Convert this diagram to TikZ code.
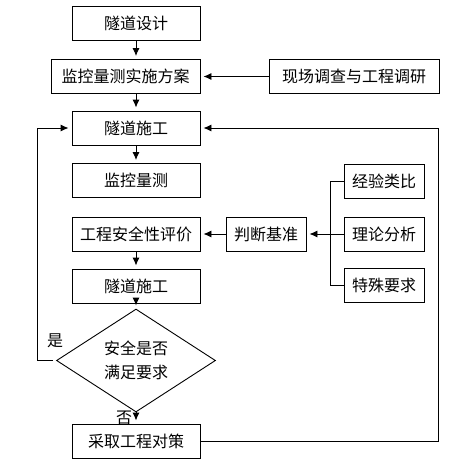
\documentclass[tikz,border=0pt]{standalone}
\usepackage{fontspec}
\newfontfamily\cjk{Noto Sans CJK SC}
\usetikzlibrary{shapes.geometric,arrows.meta}

\begin{document}
\begin{tikzpicture}[x=1pt,y=-1pt,
  box/.style={draw,line width=0.9pt,minimum height=34pt,inner sep=0pt,font=\cjk\fontsize{16}{20}\selectfont},
  flow/.style={line width=0.9pt,-{Latex[length=8pt,width=7pt]},shorten >=3pt},
  link/.style={line width=0.9pt}]
\useasboundingbox (0,0) rectangle (464,466);

% Main column
\node[box,minimum width=128pt] (design) at (136,23) {隧道设计};
\node[box,minimum width=149pt] (plan) at (125.5,76.5) {监控量测实施方案};
\node[box,minimum width=128pt] (build1) at (136,128) {隧道施工};
\node[box,minimum width=128pt] (monitor) at (136,180.5) {监控量测};
\node[box,minimum width=128pt] (eval) at (136,234) {工程安全性评价};
\node[box,minimum width=128pt] (build2) at (136,286) {隧道施工};
\node[box,diamond,minimum width=159pt,minimum height=75pt,align=center,
  font=\cjk\fontsize{16}{24}\selectfont] (check) at (136,360.5) {安全是否\\满足要求};
\node[box,minimum width=128pt] (action) at (136,441) {采取工程对策};

% Side inputs
\node[box,minimum width=170pt] (survey) at (354,76.5) {现场调查与工程调研};
\node[box,minimum width=80pt] (crit) at (266,234) {判断基准};
\node[box,minimum width=80pt] (exp) at (384,181) {经验类比};
\node[box,minimum width=80pt] (theory) at (384,234) {理论分析};
\node[box,minimum width=80pt] (special) at (384,285) {特殊要求};

% Arrows down the column
\draw[flow] (design.south) -- (design.south |- plan.north);
\draw[flow] (build1.north |- plan.south) -- (build1.north);
\draw[flow] (build1.south) -- (monitor.north);
\draw[flow] (eval.south) -- (build2.north);
\draw[flow] (build2.south) -- (check.north);
\draw[flow] (check.south) -- (action.north) node[midway,left,font=\cjk\fontsize{16}{20}\selectfont] {否};

% Arrows from the side
\draw[flow] (survey.west) -- (plan.east);
\draw[flow] (crit.west) -- (eval.east);
\draw[flow] (theory.west) -- (crit.east);
\coordinate (fork) at (330,181);
\draw[link] (exp.west) -- (fork) |- (special.west);

% Feedback loops
\coordinate (yesturn) at (37,360.5);
\coordinate (backturn) at (438,441);
\draw[flow,shorten <=3pt] (check.west) -- (yesturn) |- (build1.west);
\node[font=\cjk\fontsize{16}{20}\selectfont] (yes) at (55,341) {是};
\draw[flow] (action.east) -- (backturn) |- (build1.east);
\end{tikzpicture}
\end{document}
